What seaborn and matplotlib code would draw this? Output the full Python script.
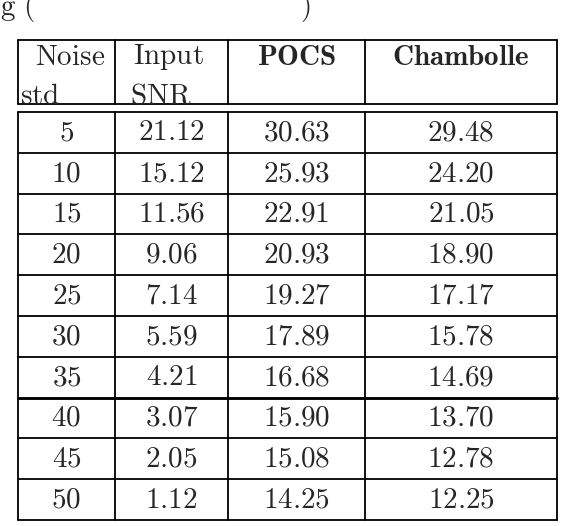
import matplotlib
matplotlib.use("Agg")
import matplotlib.pyplot as plt
import seaborn as sns

sns.set_style("white")
plt.rcParams['mathtext.fontset'] = 'cm'
plt.rcParams['font.family'] = ['DejaVu Serif']

noise_std = ["5", "10", "15", "20", "25", "30", "35", "40", "45", "50"]
input_snr = ["21.12", "15.12", "11.56", "9.06", "7.14", "5.59", "4.21", "3.07", "2.05", "1.12"]
pocs = ["30.63", "25.93", "22.91", "20.93", "19.27", "17.89", "16.68", "15.90", "15.08", "14.25"]
chambolle = ["29.48", "24.20", "21.05", "18.90", "17.17", "15.78", "14.69", "13.70", "12.78", "12.25"]

fig = plt.figure(figsize=(5.74, 5.26), dpi=100)
ax = fig.add_axes([0, 0, 1, 1])
ax.set_xlim(0, 574); ax.set_ylim(526, 0); ax.axis('off')

cols = [18, 115, 228, 365, 557]
centers = [(cols[i] + cols[i+1]) / 2 for i in range(4)]
lw = 1.3
ax.plot([18, 557], [40, 40], 'k', lw=lw); ax.plot([18, 557], [104, 104], 'k', lw=lw)
for x in cols:
    ax.plot([x, x], [40, 104], 'k', lw=lw)
top, bot = 112, 520
rh = (bot - top) / len(noise_std)
for x in cols:
    ax.plot([x, x], [top, bot], 'k', lw=lw)
for i in range(len(noise_std) + 1):
    y = top + i * rh
    ax.plot([18, 557], [y, y], 'k', lw=lw * (1.6 if i == 7 else 1))

fs = 21
def m(s, bold=False):
    return r'$\mathbf{%s}$' % s if bold else r'$\mathrm{%s}$' % s

ax.text(35, 57, m("Noise"), fontsize=fs, va='center', ha='left')
ax.text(20, 96, m("std"), fontsize=fs, va='center', ha='left')
ax.text(133, 57, m("Input"), fontsize=fs, va='center', ha='left')
ax.text(130, 96, m("SNR"), fontsize=fs, va='center', ha='left')
ax.text(centers[2], 57, m("POCS", True), fontsize=fs, va='center', ha='center')
ax.text(centers[3], 57, m("Chambolle", True), fontsize=fs, va='center', ha='center')
ax.text(0, 8, m("g\ ("), fontsize=fs, va='center', ha='left')
ax.text(300, 8, m(")"), fontsize=fs, va='center', ha='left')

for i, row in enumerate(zip(noise_std, input_snr, pocs, chambolle)):
    y = top + (i + 0.5) * rh
    for c, v in zip(centers, row):
        ax.text(c, y, m(v), fontsize=fs, va='center', ha='center')

fig.savefig("out.png", dpi=100)
